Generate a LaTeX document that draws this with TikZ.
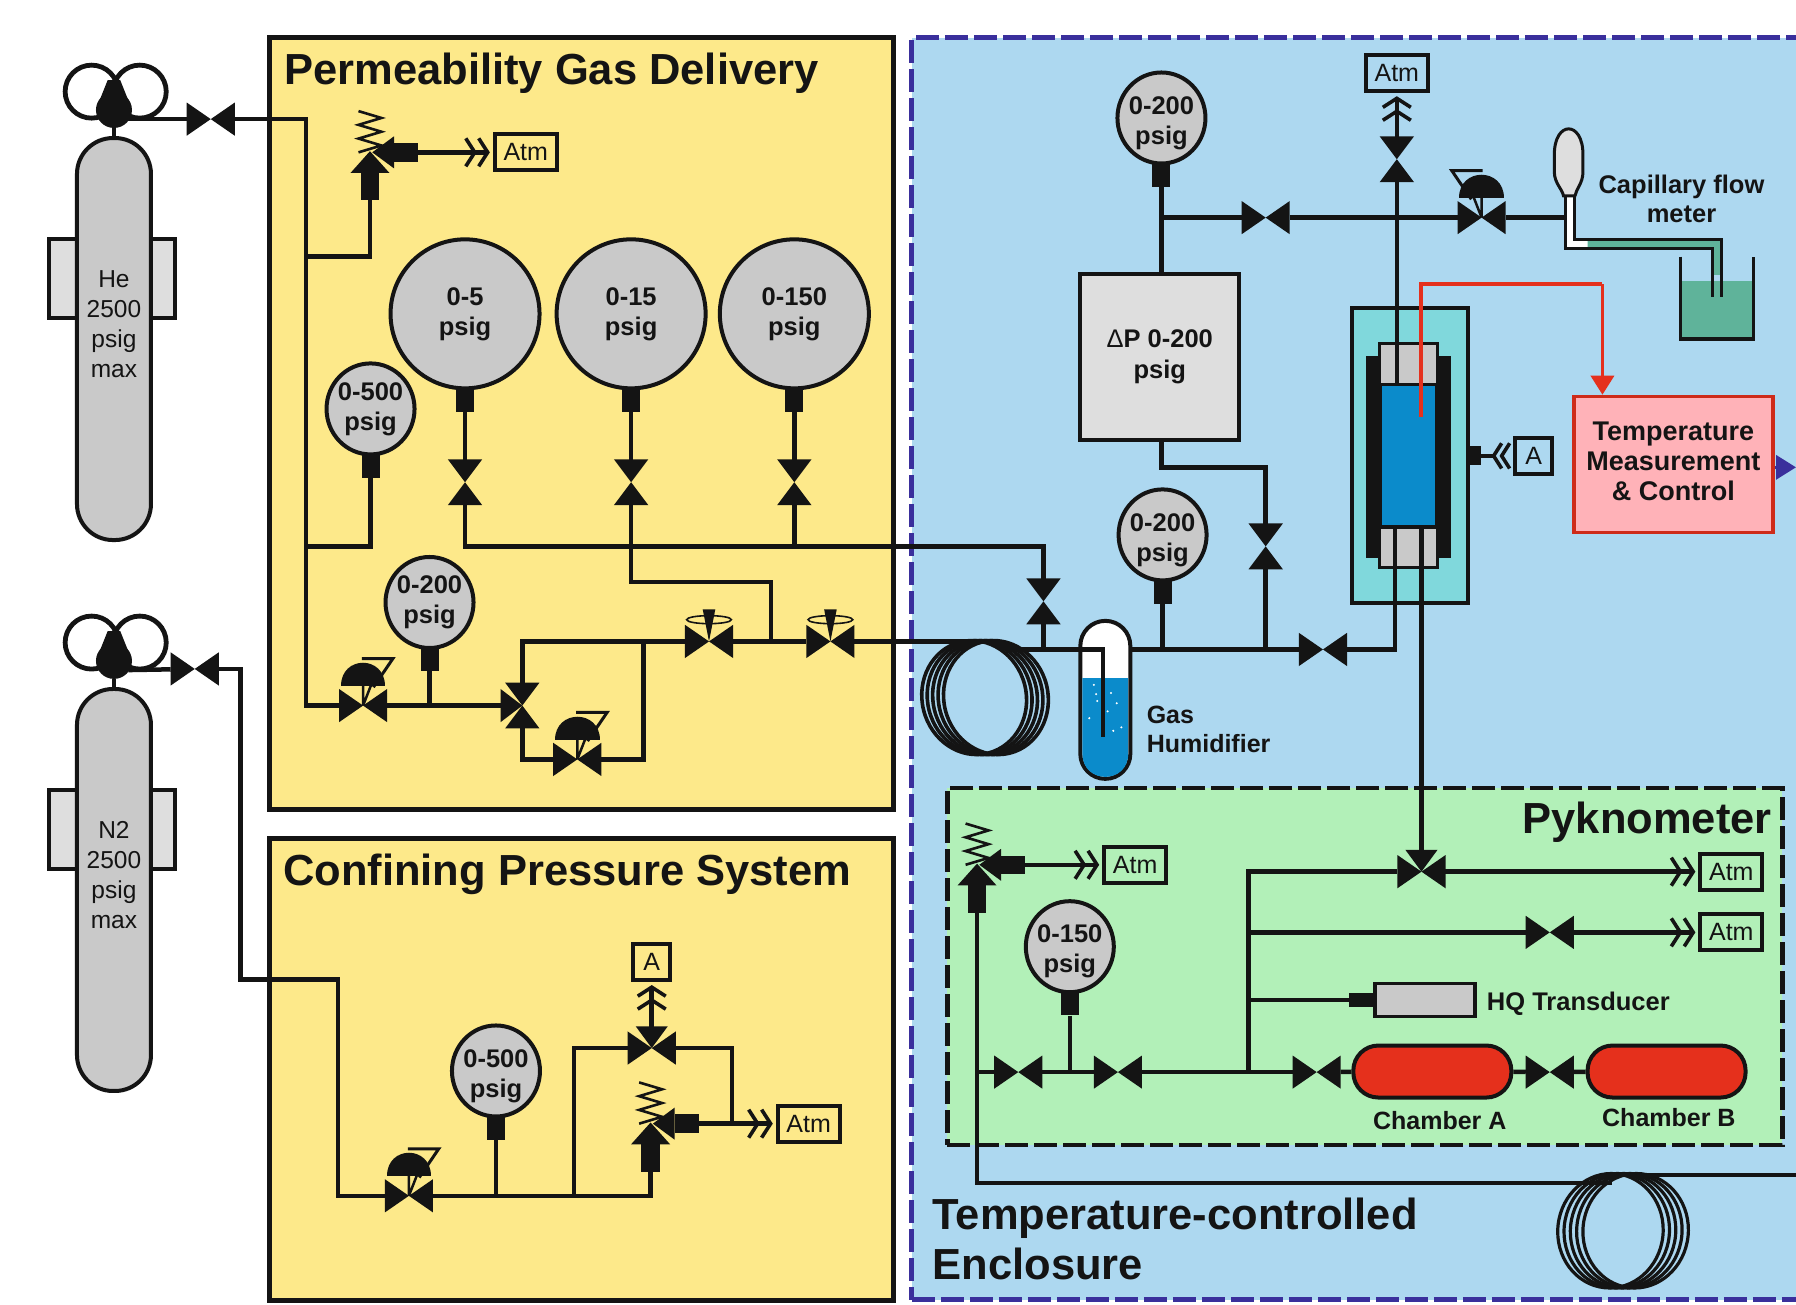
\documentclass[tikz,border=0pt]{standalone}
\usepackage{fontspec}
\setmainfont{Liberation Sans}
\usetikzlibrary{shapes.geometric, arrows.meta, positioning}

\definecolor{ink}{HTML}{141414}
\definecolor{gasyellow}{HTML}{FDE98A}
\definecolor{skyblue}{HTML}{ADD8F0}
\definecolor{pykgreen}{HTML}{B2F0B8}
\definecolor{steel}{HTML}{C9C9C9}
\definecolor{pale}{HTML}{DEDEDE}
\definecolor{dashblue}{HTML}{3A2F9C}
\definecolor{water}{HTML}{0B8BCB}
\definecolor{jacket}{HTML}{80D8DC}
\definecolor{hotred}{HTML}{E5301C}
\definecolor{blush}{HTML}{FFB2B8}
\definecolor{sludge}{HTML}{5FB39A}
\newcommand{\gaugedrop}{\rule{0pt}{28pt}}

\begin{document}
\begin{tikzpicture}[
    x=1.1454pt, y=-1.1454pt,
    gasbox/.style={rectangle, draw=ink, fill=gasyellow, line width=5pt, anchor=north west, inner sep=0, outer sep=0},
    enclosure/.style={rectangle, draw=dashblue, fill=skyblue, line width=5pt, dash pattern=on 23pt off 6pt, anchor=north west, inner sep=0, outer sep=0},
    pykbox/.style={rectangle, draw=ink, fill=pykgreen, line width=4.5pt, dash pattern=on 23pt off 6pt, anchor=north west, inner sep=0, outer sep=0},
    title/.style={text=ink, font=\bfseries\fontsize{43.5}{49}\selectfont, inner sep=0},
    note/.style={text=ink, font=\bfseries\fontsize{25}{29}\selectfont, inner sep=0, align=center},
    bottle/.style={rectangle, draw=ink, fill=steel, line width=4pt, rounded corners=36pt, minimum width=74pt, minimum height=402pt, align=center, text=ink, font=\fontsize{24.5}{30}\selectfont},
    wing/.style={rectangle, draw=ink, fill=pale, line width=4pt, minimum width=126pt, minimum height=79pt},
    knob/.style={circle, draw=ink, line width=4.8pt, minimum size=53pt, inner sep=0},
    head/.style={circle, fill=ink, minimum size=36pt, inner sep=0},
    gauge/.style={ellipse, draw=ink, fill=steel, line width=4pt, minimum width=88pt, minimum height=91pt, inner sep=-10pt, align=center, text=ink, font=\bfseries\fontsize{25.5}{30}\selectfont},
    biggauge/.style={gauge, minimum width=149pt, minimum height=149pt},
    stub/.style={rectangle, fill=ink, minimum width=18pt, minimum height=24pt, inner sep=0},
    tap/.style={rectangle, minimum width=48pt, minimum height=33pt, inner sep=0, outer sep=0},
    tapv/.style={rectangle, minimum width=35pt, minimum height=45pt, inner sep=0, outer sep=0},
    tagbox/.style={rectangle, draw=ink, line width=3.8pt, minimum height=36pt, inner sep=0, text=ink, font=\fontsize{25}{30}\selectfont},
    atm/.style={tagbox, minimum width=62pt},
    abox/.style={tagbox, minimum width=37pt},
    chamber/.style={rectangle, draw=ink, fill=hotred, line width=4pt, rounded corners=25pt, minimum width=158pt, minimum height=52pt},
    pipe/.style={draw=ink, line width=4.5pt},
    vent/.style={pipe, shorten >=3pt, -{Straight Barb[length=9pt,width=28pt,line width=3.6pt] Straight Barb[length=9pt,width=28pt,line width=3.6pt]}},
    probe/.style={draw=hotred, line width=3.5pt},
    coilwire/.style={draw=ink, line width=3.6pt},
    bowtie/.pic={
        \fill[ink] (-21,-14.5) -- (0,0) -- (-21,14.5) -- cycle;
        \fill[ink] (21,-14.5) -- (0,0) -- (21,14.5) -- cycle;
    },
    bowtiev/.pic={
        \fill[ink] (-15,-20) -- (0,0) -- (15,-20) -- cycle;
        \fill[ink] (-15,20) -- (0,0) -- (15,20) -- cycle;
    },
    regulator/.pic={
        \pic {bowtie};
        \draw[ink, line width=3pt] (-1,-41) -- (26,-41) -- (9,-16);
        \draw[ink, line width=2.5pt] (0,0) -- (0,-18) (0,0) -- (7,-18);
        \fill[ink] (-19.5,-17) .. controls (-19.5,-44) and (19.5,-44) .. (19.5,-17) -- cycle;
    },
    needle/.pic={
        \pic {bowtie};
        \draw[ink, line width=1.6pt] (0,-19) ellipse [x radius=19.5, y radius=3.5];
        \fill[ink] (-5.5,-28) -- (5.5,-28) -- (0,0) -- cycle;
    },
    splitter/.pic={
        \fill[ink] (-19,-14.5) -- (0,0) -- (-19,14.5) -- cycle;
        \pic {bowtiev};
    },
    teevalve/.pic={
        \pic {bowtie};
        \fill[ink] (-14,-19) -- (0,0) -- (14,-19) -- cycle;
    },
    relief/.pic={
        \draw[ink, line width=2.6pt] (-10,-36) -- (10,-30) -- (-10,-24) -- (10,-18) -- (-10,-12) -- (10,-6) -- (-10,0);
        \fill[ink] (0,-1) -- (17,18) -- (-17,18) -- cycle;
        \fill[ink] (-8,18) rectangle (8,42);
        \fill[ink] (2,0) -- (21,-14) -- (21,14) -- cycle;
        \fill[ink] (21,-8) rectangle (42,8);
        \coordinate (-in) at (0,42);
        \coordinate (-out) at (42,0);
    },
    chevrons/.pic={
        \draw[ink, line width=3.6pt] (7,-11) -- (0,0) -- (7,11);
        \draw[ink, line width=3.6pt] (14,-11) -- (7,0) -- (14,11);
    },
]
\useasboundingbox[fill=white] (0,0) rectangle (1568,1139.3);

% Panels
\node[gasbox, minimum width=624pt, minimum height=772pt] (permBox) at (235,33) {};
\node[gasbox, minimum width=624pt, minimum height=462pt] (confBox) at (235,732) {};
\node[enclosure, minimum width=905pt, minimum height=1262pt] (tempBox) at (796,33) {};
\node[pykbox, minimum width=835pt, minimum height=357pt] (pykBox) at (827,688) {};

\node[title, anchor=base west] (permTitle) at (248,74) {Permeability Gas Delivery};
\node[title, anchor=base west] (confTitle) at (247,773) {Confining Pressure System};
\node[title, anchor=base east] (pykTitle) at (1547,728) {Pyknometer};
\node[title, anchor=west, align=left] (tempTitle) at (814,1082) {Temperature-controlled\\[1pt]Enclosure};

% Gas cylinders
\foreach \gas/\gy/\txt in {he/0/He, nn/481/N2} {
    \node[wing] (\gas Wing) at (98,243.5+\gy) {};
    \node[bottle] (\gas Bottle) at (99.5,296+\gy) {\txt\\2500\\psig\\max\\[-9pt]\strut};
    \node[knob] (\gas KnobL) at (80,80+\gy) {};
    \node[knob] (\gas KnobR) at (122,80+\gy) {};
    \node[head] (\gas Head) at (99.5,96+\gy) {};
    \fill[ink] (94,70+\gy) -- (105,70+\gy) -- (113,90+\gy) -- (86,90+\gy) -- cycle;
    \coordinate (\gas Out) at (112,104+\gy);
    \draw[pipe] (\gas Head) -- (\gas Bottle);
}
\node[tap] (heValve) at (184,104) {};
\pic at (heValve) {bowtie};
\node[tap] (nnValve) at (170,584) {};
\pic at (nnValve) {bowtie};

% Permeability gas delivery
\pic (permRelief) at (323,133) {relief};
\node[atm] (permAtm) at (459,133) {Atm};

\node[biggauge] (gaugeFive) at (406,274) {0-5\\psig};
\node[biggauge] (gaugeFifteen) at (551,274) {0-15\\psig};
\node[biggauge] (gaugeHundred) at (693.5,274) {0-150\\psig};
\node[stub, below=-3pt of gaugeFive] (stubFive) {};
\node[stub, below=-3pt of gaugeFifteen] (stubFifteen) {};
\node[stub, below=-3pt of gaugeHundred] (stubHundred) {};
\node[tapv] (valveFive) at (406,421) {};
\node[tapv] (valveFifteen) at (551,421) {};
\node[tapv] (valveHundred) at (693.5,421) {};
\pic at (valveFive) {bowtiev};
\pic at (valveFifteen) {bowtiev};
\pic at (valveHundred) {bowtiev};

\node[gauge] (gaugeSupply) at (323.5,357) {0-500\\psig};
\node[stub, below=-3pt of gaugeSupply] (stubSupply) {};
\node[gauge] (gaugeReg) at (375,526) {0-200\\psig};
\node[stub, below=-3pt of gaugeReg] (stubReg) {};

\node[tap] (permReg) at (317,616) {};
\pic at (permReg) {regulator};
\node[tapv] (splitValve) at (456,616) {};
\pic at (splitValve) {splitter};
\node[tap] (backReg) at (504,663) {};
\pic at (backReg) {regulator};
\node[tap] (needleOne) at (619,560) {};
\pic at (needleOne) {needle};
\node[tap] (needleTwo) at (725,560) {};
\pic at (needleTwo) {needle};

% Confining pressure system
\node[tap] (confReg) at (357,1044) {};
\pic at (confReg) {regulator};
\node[gauge] (gaugeConf) at (433,935) {\gaugedrop 0-500\\psig};
\node[stub, below=-3pt of gaugeConf] (stubConf) {};
\node[tap] (confTop) at (569,915) {};
\pic at (confTop) {teevalve};
\node[abox] (confA) at (569,840) {A};
\pic (confRelief) at (568,981) {relief};
\node[atm] (confAtm) at (706,981) {Atm};

% Coils and humidifier
\foreach \cx in {850.5,855.25,860,864.75,869.5}
    \draw[coilwire, rotate around={14:(\cx,609)}] (\cx,609) ellipse [x radius=45.5, y radius=50];
\foreach \cx in {1406,1411.5,1417,1422.5,1428}
    \draw[coilwire, line width=3.2pt, rotate around={-6:(\cx,1074.5)}] (\cx,1074.5) ellipse [x radius=46, y radius=50];
\coordinate (coilOneIn) at (858,560);
\coordinate (coilOneOut) at (879,567);
\coordinate (coilTwoIn) at (1407,1033);
\coordinate (coilTwoOut) at (1431,1026);
\coordinate (coilTwoEnd) at (1568,1026);

\node[rectangle, draw=ink, fill=white, line width=4pt, rounded corners=25pt, minimum width=50pt, minimum height=158pt] (humidifier) at (965,611) {};
\fill[water] (945,592) -- (985,592) -- (985,658) .. controls (985,685) and (945,685) .. (945,658) -- cycle;
\foreach \bx/\by in {951/627, 957/606, 960/590, 967/621, 970/605, 972/638, 975/614, 979/635, 958/612, 955/598}
    \fill[white] (\bx,\by) circle [radius=1];
\node[note, anchor=west, align=left] (humidLabel) at (1001,637) {Gas\\Humidifier};

% Gauges and valves in the enclosure
\node[gauge] (gaugeTop) at (1014,103) {\gaugedrop 0-200\\psig};
\node[stub, below=-3pt of gaugeTop] (stubTop) {};
\node[rectangle, draw=ink, fill=pale, line width=3.5pt, minimum width=159pt, minimum height=166pt, align=center, text=ink, font=\bfseries\fontsize{25.5}{31}\selectfont] (dpBox) at (1012.5,311.5) {{\mdseries Δ}P 0-200\\psig};
\node[gauge] (gaugeLow) at (1015,467) {\gaugedrop 0-200\\psig};
\node[stub, below=-3pt of gaugeLow] (stubLow) {};
\node[tap] (flowValve) at (1105,190) {};
\pic at (flowValve) {bowtie};
\node[tap] (flowReg) at (1293.5,190) {};
\pic[xscale=-1] at (flowReg) {regulator};
\node[tapv] (dpValve) at (1105,477) {};
\pic at (dpValve) {bowtiev};
\node[tapv] (bypassValve) at (911,525) {};
\pic at (bypassValve) {bowtiev};
\node[tap] (rigValve) at (1155,567) {};
\pic at (rigValve) {bowtie};
\node[tapv] (topValve) at (1219.5,139) {};
\pic at (topValve) {bowtiev};
\node[atm] (topAtm) at (1219.5,64) {Atm};

% Permeability cell
\node[rectangle, draw=ink, fill=jacket, line width=4pt, minimum width=116pt, minimum height=295pt] (cellJacket) at (1231,398) {};
\node[rectangle, fill=ink, minimum width=85pt, minimum height=202pt] (cellSleeve) at (1230,399) {};
\node[rectangle, draw=ink, fill=steel, line width=3pt, minimum width=58pt, minimum height=41pt] (capTop) at (1229.5,318) {};
\node[rectangle, draw=ink, fill=water, line width=3pt, minimum width=56pt, minimum height=142pt] (cellCore) at (1229.5,398) {};
\node[rectangle, draw=ink, fill=steel, line width=3pt, minimum width=58pt, minimum height=40pt] (capBottom) at (1229.5,478) {};
\coordinate (rigIn) at (1218,460);
\coordinate (rigOut) at (1219.5,336);
\coordinate (pykFeed) at (1241,460);
\node[stub, minimum width=11pt, minimum height=19pt] (cellPort) at (1288,398) {};
\coordinate (cellChev) at (1304,398);
\pic at (cellChev) {chevrons};
\node[abox] (cellA) at (1339,398) {A};

\node[rectangle, draw=hotred!90!black, fill=blush, line width=3.5pt, minimum width=199pt, minimum height=136pt, align=center, text=ink, font=\bfseries\fontsize{27}{30}\selectfont] (tempCtrl) at (1461,405.5) {Temperature\\Measurement\\\& Control\rule[-7pt]{0pt}{1pt}};
\coordinate (probeTip) at (1240.5,364);
\coordinate (probeCorner) at (1399,248);
\coordinate (tempOut) at (1568,408);

% Capillary flow meter
\fill[white] (1366.5,171) rectangle (1374.6,213);
\fill[white] (1366.5,209) rectangle (1386,217);
\fill[sludge] (1386,209) -- (1503,209) -- (1503,240) -- (1495,240) -- (1495,217) -- (1386,217) -- cycle;
\fill[sludge] (1467,245) rectangle (1531,296);
\draw[ink, line width=3pt] (1366.5,171) -- (1366.5,217) -- (1495,217) -- (1495,259);
\draw[ink, line width=3pt] (1374.6,171) -- (1374.6,209) -- (1503,209) -- (1503,259);
\draw[ink, line width=3.5pt] (1467,224) -- (1467,296) -- (1531,296) -- (1531,224);
\draw[ink, fill=pale, line width=3pt] (1357,135) .. controls (1357,105) and (1382,105) .. (1382,135) -- (1382,150) .. controls (1382,160) and (1376,165) .. (1375,171) -- (1365,171) .. controls (1364,165) and (1357,160) .. (1357,150) -- cycle;
\node[note, font=\bfseries\fontsize{25.5}{29}\selectfont] (flowLabel) at (1468,174) {Capillary flow\\meter};
\coordinate (meterIn) at (1367,190);

% Pyknometer
\pic (pykRelief) at (853,755) {relief};
\node[atm] (pykAtmRelief) at (991,755) {Atm};
\node[gauge] (gaugePyk) at (934,826.5) {\gaugedrop 0-150\\psig};
\node[stub, below=-3pt of gaugePyk] (stubPyk) {};
\node[tap] (pykValveOne) at (889,936) {};
\pic at (pykValveOne) {bowtie};
\node[tap] (pykValveTwo) at (976,936) {};
\pic at (pykValveTwo) {bowtie};
\node[tap] (pykValveThree) at (1149.5,936) {};
\pic at (pykValveThree) {bowtie};
\node[tap] (pykValveFour) at (1353,936) {};
\pic at (pykValveFour) {bowtie};
\node[tap] (pykFeedValve) at (1241,761) {};
\pic at (pykFeedValve) {teevalve};
\node[tap] (pykVentValve) at (1353,814) {};
\pic at (pykVentValve) {bowtie};
\node[atm] (pykAtmOne) at (1511.5,761) {Atm};
\node[atm] (pykAtmTwo) at (1511.5,814) {Atm};
\node[chamber] (chamberA) at (1250.5,935.5) {};
\node[chamber] (chamberB) at (1455,935.5) {};
\node[note] (labelA) at (1257,978) {Chamber A};
\node[note] (labelB) at (1457,976) {Chamber B};
\node[rectangle, draw=ink, fill=steel, line width=3.5pt, minimum width=100pt, minimum height=33pt] (hqBox) at (1244,873) {};
\node[stub, minimum width=26pt, minimum height=14pt] (hqStub) at (1189,873) {};
\node[note, anchor=west, font=\bfseries\fontsize{25.5}{29}\selectfont] (hqLabel) at (1298,876) {HQ Transducer};

% Junction points
\coordinate (permDrop) at (267,616);
\coordinate (reliefTee) at (267,224);
\coordinate (supplyTee) at (267,477);
\coordinate (regTee) at (375,616);
\coordinate (bypassTop) at (911,477);
\coordinate (bypassTee) at (911,567);
\coordinate (fifteenCorner) at (673,508);
\coordinate (fifteenTee) at (673,560);
\coordinate (backTee) at (562,560);
\coordinate (dipTip) at (963,643);
\coordinate (humidOut) at (987,567);
\coordinate (lowTee) at (1015,567);
\coordinate (dpTee) at (1105,567);
\coordinate (dpCorner) at (1105,408);
\coordinate (flowTee) at (1014,190);
\coordinate (nnDrop) at (210,855);
\coordinate (confBend) at (295,1044);
\coordinate (confTee) at (433,1044);
\coordinate (confLoop) at (501,1044);
\coordinate (confBack) at (639,981);
\coordinate (rowStart) at (853,936);
\coordinate (rowTee) at (934,936);
\coordinate (headerBottom) at (1090,936);
\coordinate (headerMid) at (1090,814);
\coordinate (headerLow) at (1090,873);

% Permeability lines
\draw[pipe] (heOut) -- (heValve);
\draw[pipe] (heValve) -| (permDrop) -- (permReg);
\draw[pipe] (reliefTee) -| (permRelief-in);
\draw[vent] (permRelief-out) -- (permAtm);
\draw[pipe] (supplyTee) -| (stubSupply);
\draw[pipe] (stubFive) -- (valveFive);
\draw[pipe] (stubFifteen) -- (valveFifteen);
\draw[pipe] (stubHundred) -- (valveHundred);
\draw[pipe] (valveFive) |- (bypassTop) -- (bypassValve);
\draw[pipe] (valveHundred) -- (valveHundred |- bypassTop);
\draw[pipe] (valveFifteen) |- (fifteenCorner) -- (fifteenTee);
\draw[pipe] (permReg) -- (splitValve);
\draw[pipe] (stubReg) -- (regTee);
\draw[pipe] (splitValve) |- (needleOne);
\draw[pipe] (splitValve) |- (backReg);
\draw[pipe] (backReg) -| (backTee);
\draw[pipe] (needleOne) -- (needleTwo);
\draw[pipe] (needleTwo) -- (coilOneIn);
\draw[pipe] (coilOneOut) -| (dipTip);
\draw[pipe] (bypassValve) -- (bypassTee);

% Enclosure lines
\draw[pipe] (humidOut) -- (rigValve);
\draw[pipe] (rigValve) -| (rigIn);
\draw[pipe] (stubLow) -- (lowTee);
\draw[pipe] (stubTop) -- (stubTop |- dpBox.north);
\draw[pipe] (stubTop |- dpBox.south) |- (dpCorner) -- (dpValve);
\draw[pipe] (dpValve) -- (dpTee);
\draw[pipe] (flowTee) -- (flowValve);
\draw[pipe] (flowValve) -- (flowReg);
\draw[pipe] (flowReg) -- (meterIn);
\draw[pipe] (rigOut) -- (topValve);
\draw[vent] (topValve) -- (topAtm);
\draw[pipe] (cellPort) -- (cellChev);
\draw[probe] (probeTip) |- (probeCorner);
\draw[probe, -{Triangle[length=19pt,width=23pt]}] (probeCorner) -- (probeCorner |- tempCtrl.north);
\draw[draw=dashblue, line width=3.5pt, -{Triangle[length=20pt,width=24pt]}] (tempCtrl.east |- tempOut) -- (tempOut);

% Confining lines
\draw[pipe] (nnOut) -- (nnValve);
\draw[pipe] (nnValve) -| (nnDrop) -| (confBend) -- (confReg);
\draw[pipe] (confReg) -| (confRelief-in);
\draw[pipe] (stubConf) -- (confTee);
\draw[pipe] (confLoop) |- (confTop);
\draw[pipe] (confTop) -| (confBack);
\draw[vent] (confTop) -- (confA);
\draw[vent] (confRelief-out) -- (confAtm);

% Pyknometer lines
\draw[pipe] (pykFeed) -- (pykFeedValve);
\draw[vent] (pykRelief-out) -- (pykAtmRelief);
\draw[pipe] (pykRelief-in) |- (coilTwoIn);
\draw[pipe] (coilTwoOut) -- (coilTwoEnd);
\draw[pipe] (rowStart) -- (pykValveOne);
\draw[pipe] (pykValveOne) -- (pykValveTwo);
\draw[pipe] (stubPyk) -- (rowTee);
\draw[pipe] (pykValveTwo) -- (pykValveThree);
\draw[pipe] (pykValveThree) -- (chamberA);
\draw[pipe] (chamberA) -- (pykValveFour);
\draw[pipe] (pykValveFour) -- (chamberB);
\draw[pipe] (headerBottom) |- (pykFeedValve);
\draw[vent] (pykFeedValve) -- (pykAtmOne);
\draw[pipe] (headerMid) -- (pykVentValve);
\draw[vent] (pykVentValve) -- (pykAtmTwo);
\draw[pipe] (headerLow) -- (hqStub);

\end{tikzpicture}
\end{document}
